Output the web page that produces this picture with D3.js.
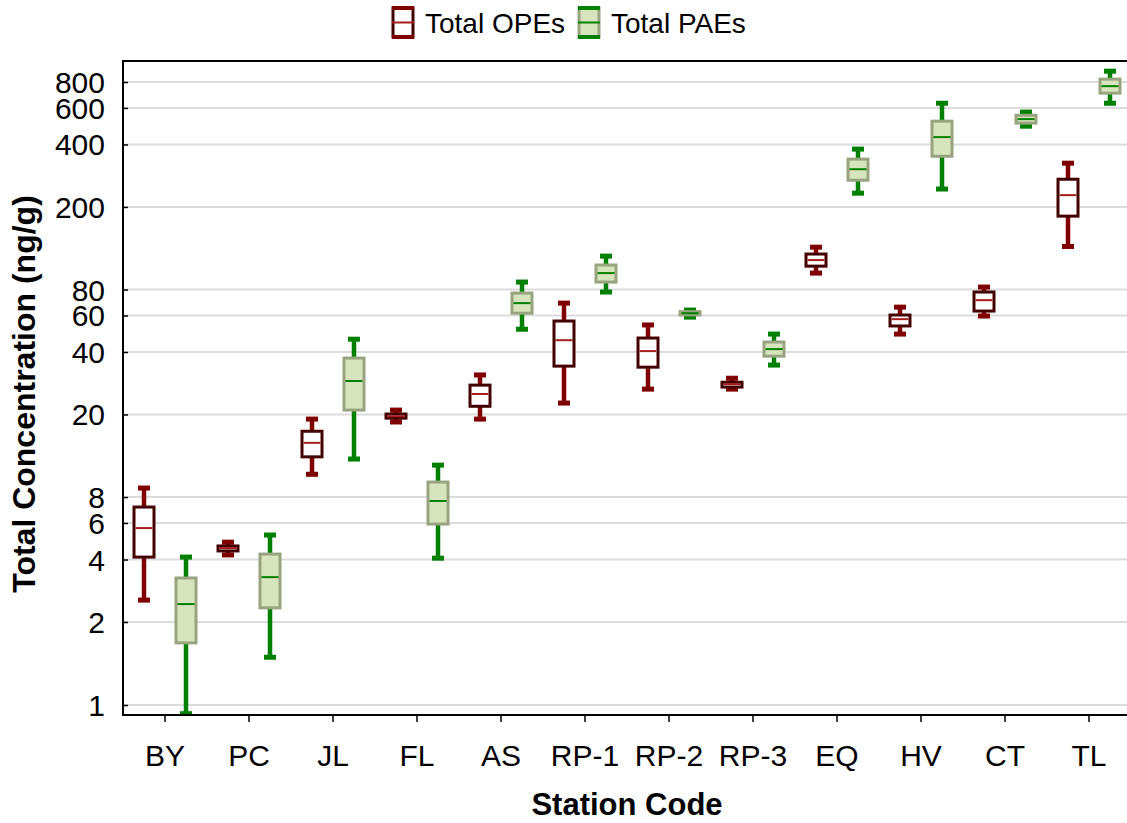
<!DOCTYPE html>
<html>
<head>
<meta charset="utf-8">
<script src="https://cdn.jsdelivr.net/npm/d3@7"></script>
<style>
  body { margin: 0; background: #fff; }
  text { font-family: Arial, "Liberation Sans", sans-serif; fill: #000; }
</style>
</head>
<body>
<div id="chart"></div>
<script>
// station codes on the x axis
var stations = ['BY', 'PC', 'JL', 'FL', 'AS', 'RP-1', 'RP-2', 'RP-3', 'EQ', 'HV', 'CT', 'TL']
var yTicks = [1, 2, 4, 6, 8, 20, 40, 60, 80, 200, 400, 600, 800]
var seriesNames = ['Total OPEs', 'Total PAEs']

// Total OPEs (ng/g): whisker min, Q1, median, Q3, whisker max
var opeMin = [2.55, 4.21, 10.3, 18.4, 19.0, 22.7, 26.5, 26.5, 96, 48.8, 59.6, 129]
var opeQ1  = [4.11, 4.40, 12.5, 19.2, 21.9, 34.2, 33.8, 27.1, 103.7, 53.4, 63, 180.6]
var opeMed = [5.67, 4.54, 14.6, 19.6, 25.1, 45.6, 40.4, 28.0, 110.9, 57.6, 71.1, 228]
var opeQ3  = [7.16, 4.65, 16.6, 20.1, 27.7, 56.4, 46.7, 28.6, 118.6, 60.3, 77.8, 272]
var opeMax = [8.84, 4.85, 19.0, 21.0, 31.0, 68.8, 54, 29.9, 128, 65.8, 82.2, 325]

// Total PAEs (ng/g)
var paeMin = [0.93, 1.49, 12.2, 4.06, 51.5, 77.8, 58.9, 34.6, 233, 244, 490, 632]
var paeQ1  = [1.68, 2.34, 21.0, 5.93, 61.5, 86.9, 60.4, 38.2, 269, 351, 507, 707]
var paeMed = [2.44, 3.29, 29.0, 7.66, 68.8, 96, 61.5, 41.3, 304, 434, 530, 764]
var paeQ3  = [3.26, 4.25, 37.4, 9.45, 76.9, 105, 62.6, 44.7, 340, 518, 553, 826]
var paeMax = [4.11, 5.25, 46.1, 11.4, 86.9, 115.9, 63.7, 48.8, 380, 632, 573, 902]

var W = 1127, H = 823
var pLeft = 123, pTop = 61, pBottom = 715, pRight = 1131

var svg = d3.select('#chart')
    .append('svg')
    .attr('width', W)
    .attr('height', H)

// the log axis of the original is stretched between 1 and 2
var y = d3.scaleLog()
    .domain([1, 2, 800])
    .range([705, 622, 82])

var x = d3.scaleBand()
    .domain(stations)
    .range([pLeft, pRight])

var styles = [
    {off: -21, fill: '#ffffff', box: '#440000', med: '#a81c1c', whisk: '#800000'},
    {off: 21, fill: '#d7e4bd', box: '#98a47f', med: '#008000', whisk: '#008000'}
]

function rows(mn, q1, md, q3, mx) {
    return stations.map(function(s, i) {
        return {s: s, min: mn[i], q1: q1[i], med: md[i], q3: q3[i], max: mx[i]}
    })
}
var series = [
    rows(opeMin, opeQ1, opeMed, opeQ3, opeMax),
    rows(paeMin, paeQ1, paeMed, paeQ3, paeMax)
]

// grid lines
svg.append('g')
    .selectAll('line')
    .data(yTicks)
    .enter()
    .append('line')
    .attr('x1', pLeft)
    .attr('x2', W)
    .attr('y1', function(d){ return y(d) })
    .attr('y2', function(d){ return y(d) })
    .attr('stroke', '#dcdcdc')
    .attr('stroke-width', 2)

svg.append('clipPath')
    .attr('id', 'plotclip')
    .append('rect')
    .attr('x', pLeft)
    .attr('y', pTop)
    .attr('width', W - pLeft)
    .attr('height', pBottom - pTop)

var plot = svg.append('g').attr('clip-path', 'url(#plotclip)')

var bw = 20, capW = 12

series.forEach(function(data, k) {
    var st = styles[k]
    var g = plot.append('g')
        .selectAll('g')
        .data(data)
        .enter()
        .append('g')
        .attr('transform', function(d){ return 'translate(' + (x(d.s) + x.bandwidth() / 2 + st.off) + ',0)' })

    // whiskers
    g.append('line')
        .attr('x1', 0).attr('x2', 0)
        .attr('y1', function(d){ return y(d.max) })
        .attr('y2', function(d){ return y(d.q3) })
        .attr('stroke', st.whisk).attr('stroke-width', 4.5)
    g.append('line')
        .attr('x1', 0).attr('x2', 0)
        .attr('y1', function(d){ return y(d.q1) })
        .attr('y2', function(d){ return y(d.min) })
        .attr('stroke', st.whisk).attr('stroke-width', 4.5)
    // caps
    ;['min', 'max'].forEach(function(key) {
        g.append('line')
            .attr('x1', -capW / 2).attr('x2', capW / 2)
            .attr('y1', function(d){ return y(d[key]) })
            .attr('y2', function(d){ return y(d[key]) })
            .attr('stroke', st.whisk).attr('stroke-width', 5)
    })
    // box
    g.append('rect')
        .attr('x', -bw / 2)
        .attr('width', bw)
        .attr('y', function(d){ return y(d.q3) })
        .attr('height', function(d){ return Math.max(y(d.q1) - y(d.q3), 1) })
        .attr('fill', st.fill)
        .attr('stroke', st.box)
        .attr('stroke-width', 3)
    // median
    g.append('line')
        .attr('x1', -bw / 2 + 1.5).attr('x2', bw / 2 - 1.5)
        .attr('y1', function(d){ return y(d.med) })
        .attr('y2', function(d){ return y(d.med) })
        .attr('stroke', st.med).attr('stroke-width', 2)
})

// y axis, ticks pointing into the plot
var yAxis = svg.append('g')
    .attr('transform', 'translate(' + pLeft + ',0)')
    .call(d3.axisLeft(y).tickValues(yTicks).tickFormat(d3.format('d')).tickSizeInner(-5).tickSizeOuter(0).tickPadding(18))
yAxis.select('.domain').remove()
yAxis.selectAll('line').attr('stroke', '#000').attr('stroke-width', 1.5)
yAxis.selectAll('text').style('font-size', '30px').attr('dy', '0.35em')

// x axis
var xAxis = svg.append('g')
    .attr('transform', 'translate(0,' + pBottom + ')')
    .call(d3.axisBottom(x).tickSizeInner(7).tickSizeOuter(0))
xAxis.select('.domain').remove()
xAxis.selectAll('line').attr('stroke', '#000').attr('stroke-width', 1.5)
xAxis.selectAll('text').style('font-size', '30px').attr('y', 51).attr('dy', 0)

// frame
svg.append('line').attr('x1', pLeft).attr('x2', W).attr('y1', pTop).attr('y2', pTop)
    .attr('stroke', '#000').attr('stroke-width', 2)
svg.append('line').attr('x1', pLeft).attr('x2', W).attr('y1', pBottom).attr('y2', pBottom)
    .attr('stroke', '#000').attr('stroke-width', 2)
svg.append('line').attr('x1', pLeft).attr('x2', pLeft).attr('y1', pTop - 1).attr('y2', pBottom + 1)
    .attr('stroke', '#000').attr('stroke-width', 2)

// axis titles
svg.append('text')
    .attr('x', 627).attr('y', 815)
    .attr('text-anchor', 'middle')
    .style('font-size', '31px').style('font-weight', 'bold')
    .text('Station Code')
svg.append('text')
    .attr('transform', 'translate(35,394) rotate(-90)')
    .attr('text-anchor', 'middle')
    .style('font-size', '32px').style('font-weight', 'bold')
    .text('Total Concentration (ng/g)')

// legend
var legX = [393, 579]
var leg = svg.append('g')
    .selectAll('g')
    .data(seriesNames)
    .enter()
    .append('g')
    .attr('transform', function(d, i){ return 'translate(' + legX[i] + ',8)' })
leg.append('rect')
    .attr('x', 0).attr('y', 0).attr('width', 20).attr('height', 29)
    .attr('fill', function(d, i){ return styles[i].fill })
    .attr('stroke', function(d, i){ return styles[i].box })
    .attr('stroke-width', 3)
leg.each(function(d, i) {
    var g = d3.select(this)
    ;[0, 14.5, 29].forEach(function(yy, j) {
        g.append('line')
            .attr('x1', -1).attr('x2', 21).attr('y1', yy).attr('y2', yy)
            .attr('stroke', j == 1 ? styles[i].med : styles[i].whisk)
            .attr('stroke-width', j == 1 ? 2 : 4)
    })
})
leg.append('text')
    .attr('x', 32).attr('y', 25)
    .style('font-size', '28px')
    .text(function(d){ return d })
</script>
</body>
</html>
